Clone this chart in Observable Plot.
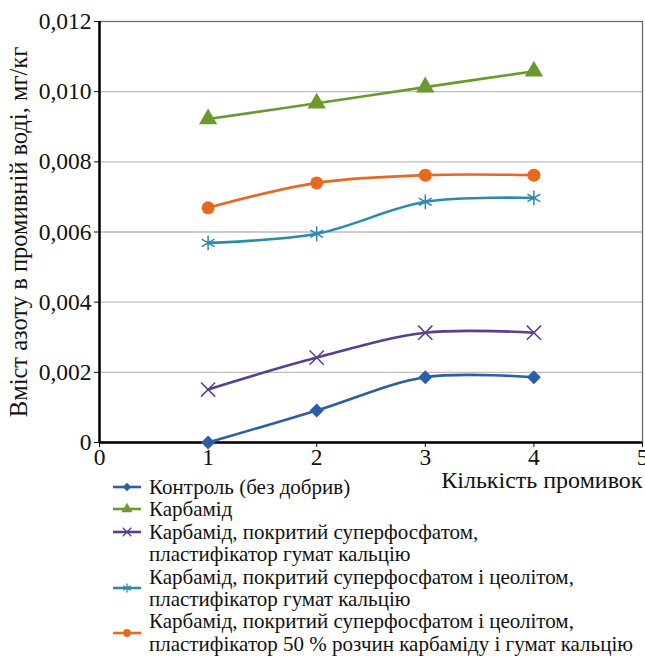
<!DOCTYPE html>
<html><head><meta charset="utf-8">
<script src="https://cdn.jsdelivr.net/npm/d3@7"></script>
<script src="https://cdn.jsdelivr.net/npm/@observablehq/plot@0.6"></script>
<style>
html,body{margin:0;padding:0;background:#fff;}
#wrap{position:relative;width:645px;height:657px;font-family:'Liberation Serif','Times New Roman',serif;}
#legend{position:absolute;left:112px;top:476px;font-size:21px;line-height:22.4px;color:#111;font-family:'Liberation Serif','Times New Roman',serif;}
.row{display:flex;align-items:flex-start;}
.row.mid{align-items:center;}
.row svg{flex:none;margin-right:7px;}
</style></head>
<body><div id="wrap"><div id="chart"></div><div id="legend"></div></div>
<script>
const washes = [1, 2, 3, 4];
const seriesNames = [
  "Контроль (без добрив)",
  "Карбамід",
  "Карбамід, покритий суперфосфатом,\nпластифікатор гумат кальцію",
  "Карбамід, покритий суперфосфатом і цеолітом,\nпластифікатор гумат кальцію",
  "Карбамід, покритий суперфосфатом і цеолітом,\nпластифікатор 50 % розчин карбаміду і гумат кальцію"
];
const control = [0.0000, 0.00091, 0.00186, 0.00186];
const carbamide = [0.00922, 0.00967, 0.01013, 0.01058];
const coatedSuper = [0.00151, 0.00242, 0.00313, 0.00313];
const coatedZeolite = [0.00569, 0.00595, 0.00686, 0.00697];
const coatedZeolite50 = [0.00669, 0.00740, 0.00762, 0.00762];
const seriesValues = [control, carbamide, coatedSuper, coatedZeolite, coatedZeolite50];
const colors = ["#2a5ea6", "#6b9a2c", "#5b3e8c", "#2a8cab", "#e8691e"];
const symbols = ["diamond2", "triangle", "times", "asterisk", "circle"];
const filled = [true, true, false, false, true];
const sizes = [6.3, 6.8, 6.5, 7, 6.5];
const xTicks = [0, 1, 2, 3, 4, 5];
const yTicks = [0, 0.002, 0.004, 0.006, 0.008, 0.010, 0.012];

const table = seriesValues.flatMap((vals, i) => vals.map((v, j) => ({series: i, x: washes[j], y: v})));
const fmt = d => d === 0 ? "0" : d.toFixed(3).replace(".", ",");
const FONT = "'Liberation Serif','Times New Roman',serif";

const marks = [
  Plot.gridY(yTicks.filter(d => d > 0 && d < 0.012), {stroke: "#bdbdbd", strokeOpacity: 1, strokeWidth: 1.3}),
  Plot.frame({stroke: "#6a6a6a", strokeWidth: 1.3}),
  Plot.axisX({ticks: xTicks, tickFormat: d => String(d), tickSize: 5, tickPadding: 1, fontSize: 23.5, fontFamily: FONT, label: null}),
  Plot.axisX({ticks: [], label: "Кількість промивок", labelAnchor: "right", labelOffset: 45, labelArrow: "none", fontSize: 24, fontFamily: FONT}),
  Plot.axisY({ticks: yTicks, tickFormat: fmt, tickSize: 5, tickPadding: 3, fontSize: 23.5, fontFamily: FONT, label: null}),
  Plot.axisY({ticks: [], label: "Вміст азоту в промивній воді, мг/кг", labelAnchor: "center", labelOffset: 90, labelArrow: "none", fontSize: 24.5, fontFamily: FONT}),
  Plot.ruleY([0], {stroke: "black", strokeWidth: 2.5}),
  Plot.ruleX([0], {stroke: "black", strokeWidth: 2.5})
];
seriesValues.forEach((_, i) => {
  const d = table.filter(r => r.series === i);
  marks.push(Plot.line(d, {x: "x", y: "y", stroke: colors[i], strokeWidth: 2.6, curve: "catmull-rom"}));
  marks.push(Plot.dot(d, filled[i]
    ? {x: "x", y: "y", symbol: symbols[i], r: sizes[i], fill: colors[i], stroke: "none"}
    : {x: "x", y: "y", symbol: symbols[i], r: sizes[i], fill: "none", stroke: colors[i], strokeWidth: 1.5}));
});

const chart = Plot.plot({
  width: 645, height: 500,
  marginLeft: 99, marginRight: 3, marginTop: 21, marginBottom: 58,
  x: {domain: [0, 5]},
  y: {domain: [0, 0.012]},
  style: {fontFamily: FONT, fontSize: "22px", background: "white", color: "#111", overflow: "visible"},
  marks
});
document.getElementById("chart").appendChild(chart);

const legend = document.getElementById("legend");
const symMap = {diamond2: d3.symbolDiamond2, triangle: d3.symbolTriangle, times: d3.symbolTimes, asterisk: d3.symbolAsterisk, circle: d3.symbolCircle};
seriesNames.forEach((name, i) => {
  const row = document.createElement("div");
  row.className = "row" + (i >= 3 ? " mid" : "");
  const s = d3.create("svg").attr("width", 30).attr("height", 22);
  s.append("line").attr("x1", 1).attr("x2", 29).attr("y1", 11).attr("y2", 11).attr("stroke", colors[i]).attr("stroke-width", 2.6);
  const area = Math.PI * (sizes[i] * 0.6) ** 2;
  s.append("path").attr("d", d3.symbol(symMap[symbols[i]], area)()).attr("transform", "translate(15,11)")
    .attr("fill", filled[i] ? colors[i] : "none").attr("stroke", filled[i] ? "none" : colors[i]).attr("stroke-width", 1.3);
  row.appendChild(s.node());
  const t = document.createElement("div");
  t.innerHTML = name.split("\n").join("<br>");
  row.appendChild(t);
  legend.appendChild(row);
});
</script></body></html>
